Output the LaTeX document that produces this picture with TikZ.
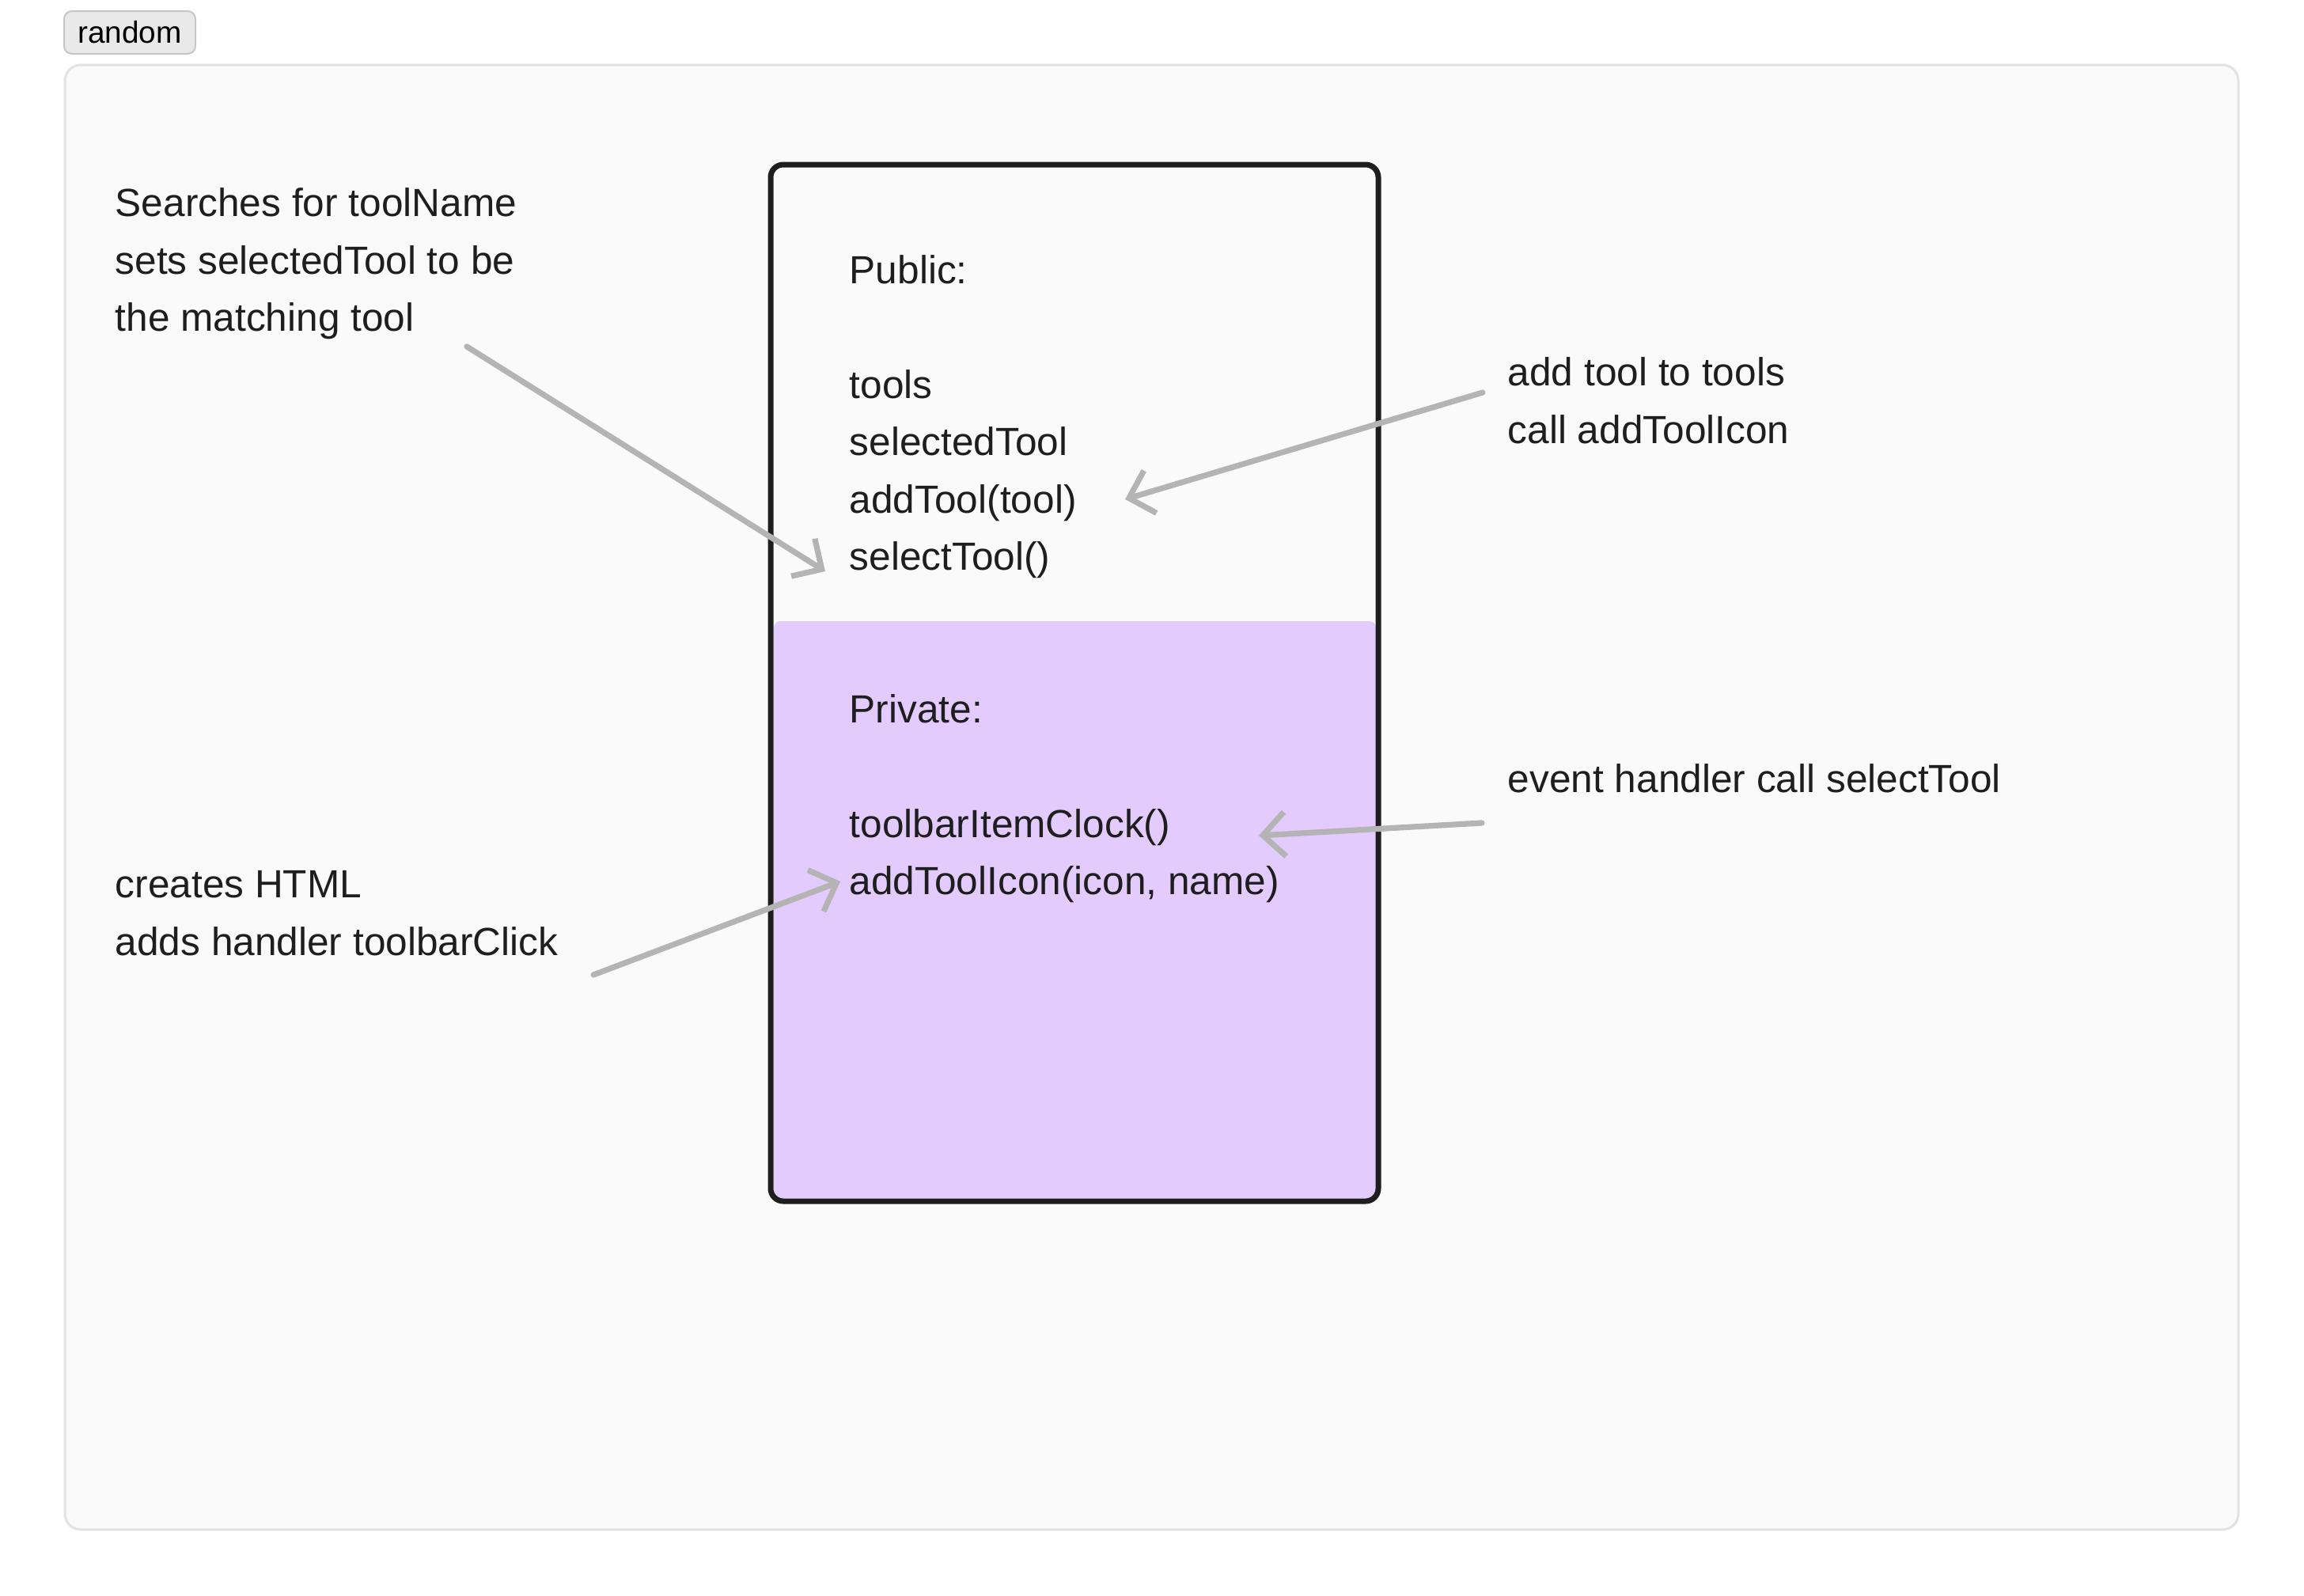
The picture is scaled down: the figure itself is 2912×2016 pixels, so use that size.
\documentclass[tikz,border=0pt]{standalone}
\usepackage{fontspec}
\setmainfont{Liberation Sans}
\usetikzlibrary{arrows.meta}
\definecolor{inkc}{RGB}{30,30,30}
\definecolor{panelfill}{RGB}{250,250,250}
\definecolor{paneledge}{RGB}{226,226,226}
\definecolor{btnfill}{RGB}{233,233,233}
\definecolor{btnedge}{RGB}{198,198,198}
\definecolor{privfill}{RGB}{227,204,253}
\definecolor{arrowgray}{RGB}{180,180,180}
\tikzset{
  note/.style={anchor=north west, inner sep=0pt, align=left, text=inkc, font=\fontsize{12.4}{18.1}\selectfont},
  pointer/.style={draw=arrowgray, line width=1.8pt, line cap=round, line join=round, -{Straight Barb[length=7pt,width=14pt]}},
}

\begin{document}
\begin{tikzpicture}[x=0.25pt,y=0.25pt,yscale=-1,xscale=1]
\useasboundingbox (0,0) rectangle (2912,2016);

%Shape: Button
\node (rnd) [draw=btnedge, fill=btnfill, line width=0.5pt, rounded corners=2.5pt, minimum width=41.5pt, minimum height=13.5pt, inner sep=0pt, font=\fontsize{9.7}{11}\selectfont] at (164,41) {random};
%Shape: Panel
\draw [draw=paneledge, fill=panelfill, line width=0.75pt, rounded corners=5pt] (82,82) rectangle (2829,1933);
%Shape: Private part
\fill [privfill, rounded corners=2pt] (978,785) rectangle (1739,1514);
%Shape: Class box
\draw [draw=inkc, line width=1.75pt, rounded corners=4pt] (974,208) rectangle (1742,1518);

% Text Node
\node (srch) [note] at (145,237) {Searches for toolName\\sets selectedTool to be\\the matching tool};
% Text Node
\node (pub) [note] at (1073,322) {Public:\\[18.1pt]tools\\selectedTool\\addTool(tool)\\selectTool()};
% Text Node
\node (priv) [note] at (1073,877) {Private:\\[18.1pt]toolbarItemClock()\\addToolIcon(icon, name)};
% Text Node
\node (addt) [note] at (1905,451) {add tool to tools\\call addToolIcon};
% Text Node
\node (evt) [note] at (1905,965) {event handler call selectTool};
% Text Node
\node (html) [note] at (145,1100) {creates HTML\\adds handler toolbarClick};

% arrow ends
\coordinate (srchA) at (590,438);
\coordinate (selT) at (1043,722);
\coordinate (addtA) at (1874,496);
\coordinate (addT) at (1422,631);
\coordinate (evtA) at (1873,1040);
\coordinate (clkT) at (1591,1056);
\coordinate (htmlA) at (750,1232);
\coordinate (iconT) at (1062,1114);

%Straight Lines
\draw [pointer] (srchA) -- (selT);
\draw [pointer] (addtA) -- (addT);
\draw [pointer] (evtA) -- (clkT);
\draw [pointer] (htmlA) -- (iconT);

\end{tikzpicture}
\end{document}
